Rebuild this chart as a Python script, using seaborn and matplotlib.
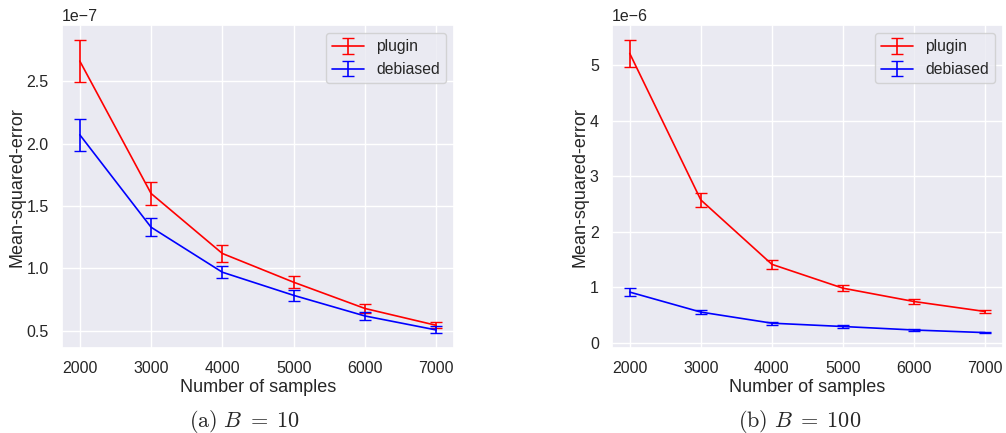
import numpy as np
import matplotlib
matplotlib.use("Agg")
import matplotlib.pyplot as plt
import seaborn as sns

samples = [2000, 3000, 4000, 5000, 6000, 7000]

# B = 10 (values in units of 1e-7)
plugin_b10 = [2.66, 1.60, 1.12, 0.89, 0.68, 0.545]
plugin_b10_err = [0.17, 0.095, 0.065, 0.05, 0.034, 0.025]
debiased_b10 = [2.07, 1.33, 0.97, 0.785, 0.62, 0.508]
debiased_b10_err = [0.13, 0.07, 0.05, 0.042, 0.03, 0.028]

# B = 100 (values in units of 1e-6)
plugin_b100 = [5.21, 2.57, 1.41, 0.98, 0.74, 0.56]
plugin_b100_err = [0.245, 0.13, 0.08, 0.05, 0.04, 0.035]
debiased_b100 = [0.91, 0.55, 0.35, 0.29, 0.227, 0.18]
debiased_b100_err = [0.07, 0.04, 0.025, 0.02, 0.02, 0.015]

captions = [r"$\mathrm{(a)}\ B\;=\;10$", r"$\mathrm{(b)}\ B\;=\;100$"]

sns.set_theme(style="darkgrid")
plt.rcParams['font.family'] = ['Liberation Sans', 'DejaVu Sans']
plt.rcParams['mathtext.fontset'] = 'cm'

fig = plt.figure(figsize=(10.06, 4.33), dpi=100)
ax1 = fig.add_axes([0.0616, 0.196, 0.3897, 0.746])
ax2 = fig.add_axes([0.6083, 0.196, 0.3887, 0.746])

panels = [
    (ax1, plugin_b10, plugin_b10_err, debiased_b10, debiased_b10_err, 1e-7),
    (ax2, plugin_b100, plugin_b100_err, debiased_b100, debiased_b100_err, 1e-6),
]

for ax, p, pe, d, de, scale in panels:
    ax.errorbar(samples, np.array(p) * scale, yerr=np.array(pe) * scale,
                color='red', capsize=4, lw=1.2, label='plugin')
    ax.errorbar(samples, np.array(d) * scale, yerr=np.array(de) * scale,
                color='blue', capsize=4, lw=1.2, label='debiased')
    ax.set_xlabel('Number of samples', fontsize=13, labelpad=2)
    ax.set_ylabel('Mean-squared-error', fontsize=13, labelpad=1)
    ax.set_xticks(samples)
    ax.tick_params(labelsize=11.5)
    ax.yaxis.get_offset_text().set_fontsize(11.5)
    ax.legend(loc='upper right', fontsize=11.3)

for x, cap in zip([0.243, 0.795], captions):
    fig.text(x, 0.014, cap, ha='center', va='baseline', fontsize=16)

fig.savefig('out.png', dpi=100)
